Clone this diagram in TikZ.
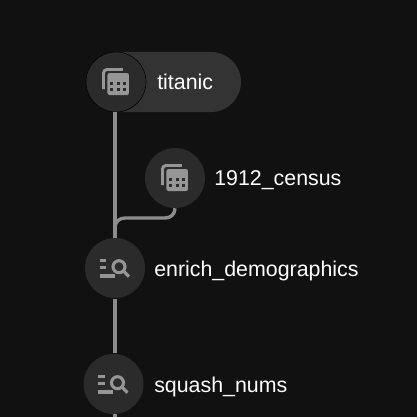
\documentclass[tikz,border=0pt]{standalone}
\usepackage{fontspec}
\setmainfont{Liberation Sans}
\usetikzlibrary{positioning}

\definecolor{pagebg}{HTML}{111111}
\definecolor{nodebg}{HTML}{2B2B2B}
\definecolor{pillbg}{HTML}{333333}
\definecolor{linkgray}{HTML}{8C8C8C}
\definecolor{icongray}{HTML}{969696}

\tikzset{
	vertex/.style={circle,fill=nodebg,minimum size=1.5cm,inner sep=0pt},
	caption/.style={anchor=base west,text=white,inner sep=0pt,font=\fontsize{15.2}{18}\selectfont},
	link/.style={draw=linkgray,line width=2.4pt},
	dataset/.pic={
		\draw[icongray,line width=2.1pt,rounded corners=2.5pt] (7,-12.5) -- (-12.5,-12.5) -- (-12.5,7);
		\fill[icongray,rounded corners=1.5pt] (-8.5,-9) rectangle (13,13);
		\foreach \x in {-5.5,0.7,6.9} \foreach \y in {0,6}
			\fill[nodebg] (\x,\y) rectangle (\x+3,\y+3);
	},
	query/.pic={
		\draw[icongray,line width=2.2pt] (-15,-7.3) -- (-8.5,-7.3);
		\draw[icongray,line width=2.2pt] (-15,-0.7) -- (-8.5,-0.7);
		\draw[icongray,line width=2.2pt] (-15,8) -- (0,8);
		\draw[icongray,line width=2.2pt] (4,-1.3) circle (6);
		\draw[icongray,line width=2.2pt] (8.5,3) -- (14,8.7);
	}
}

\begin{document}
\begin{tikzpicture}[x=0.025cm,y=-0.025cm]
	\fill[pagebg] (0,0) rectangle (417,417);
	\useasboundingbox (0,0) rectangle (417,417);

	\draw (163.5,82) node[fill=pillbg,minimum width=3.875cm,minimum height=1.5cm,rounded corners=0.75cm] (pill) {};

	\draw (116,82) node[vertex,draw=black,line width=0.4pt] (titanic) {};
	\draw (175,178) node[vertex] (census) {};
	\draw (115,268) node[vertex] (enrich) {};
	\draw (113.5,384) node[vertex] (squash) {};
	\coordinate (more) at (115,417);

	% connectors
	\draw[link] (titanic.south -| enrich) -- (enrich.north);
	\draw[link] (census.south) .. controls (175,214) and (171,218) .. (165,218) -- (125,218) .. controls (119,218) and (115,222) .. (115,228);
	\draw[link] (enrich.south) ++(0,1) -- (115,353);
	\draw[link] (115,414) -- (more);

	% icons
	\path (titanic) pic {dataset};
	\path (census) pic {dataset};
	\path (enrich) pic {query};
	\path (squash) pic {query};

	\draw (157,89.7) node[caption] (titaniclabel) {titanic};
	\draw (214,185.7) node[caption] (censuslabel) {1912\_census};
	\draw (154,276.7) node[caption] (enrichlabel) {enrich\_demographics};
	\draw (154,392.7) node[caption] (squashlabel) {squash\_nums};
\end{tikzpicture}
\end{document}
